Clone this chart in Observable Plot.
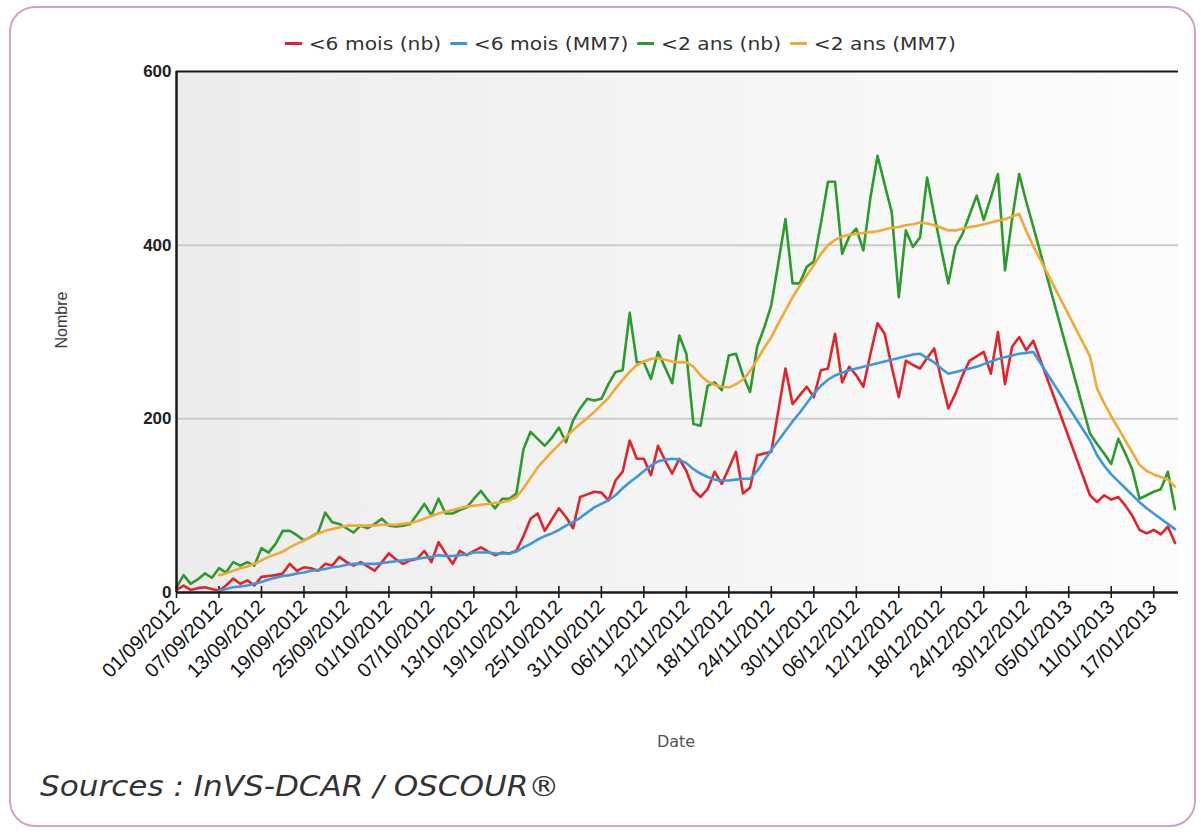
<!DOCTYPE html>
<html><head><meta charset="utf-8">
<script src="https://cdn.jsdelivr.net/npm/d3@7"></script>
<script src="https://cdn.jsdelivr.net/npm/@observablehq/plot@0.6"></script>
<style>
html,body{margin:0;padding:0;background:#fff;}
#wrap{position:relative;width:1201px;height:832px;overflow:hidden;font-family:"Liberation Sans",Arial,sans-serif;}
#chart{position:absolute;left:0;top:0;}
#frame{position:absolute;left:9px;top:6px;width:1187px;height:821px;border:2px solid #d3a0c8;border-radius:26px;box-sizing:border-box;pointer-events:none;}
#legend{position:absolute;top:33px;left:285px;display:flex;align-items:center;font-family:"DejaVu Sans",sans-serif;font-size:18px;color:#333;white-space:nowrap;transform:scaleX(1.125);transform-origin:0 50%;}
.item{display:flex;align-items:center;margin-right:8px;}
.sw{width:15px;height:3px;margin-right:6px;}
#ylab{position:absolute;left:62px;top:320px;transform:translate(-50%,-50%) rotate(-90deg);font-size:16px;color:#3a3a3a;}
#xlab{position:absolute;left:676px;top:741px;transform:translate(-50%,-50%);font-family:"DejaVu Sans",sans-serif;font-size:16px;color:#555;}
#src{position:absolute;left:40px;top:770px;font-family:"DejaVu Sans",sans-serif;font-style:italic;font-size:28px;color:#333;transform:scaleX(1.11);transform-origin:0 50%;white-space:nowrap;}
</style></head><body>
<div id="wrap">
  <div id="chart"></div>
  <div id="frame"></div>
  <div id="legend"></div>
  <div id="ylab">Nombre</div>
  <div id="xlab">Date</div>
  <div id="src">Sources : InVS-DCAR / OSCOUR®</div>
</div>
<script>
// ---- data ----
const startDate = [2012, 9, 1]; // first day of the daily series (01/09/2012)
const tickLabels = ["01/09/2012","07/09/2012","13/09/2012","19/09/2012","25/09/2012","01/10/2012","07/10/2012","13/10/2012","19/10/2012","25/10/2012","31/10/2012","06/11/2012","12/11/2012","18/11/2012","24/11/2012","30/11/2012","06/12/2012","12/12/2012","18/12/2012","24/12/2012","30/12/2012","05/01/2013","11/01/2013","17/01/2013"];
const yTicks = [0, 200, 400, 600];
const seriesNames = ["<6 mois (nb)", "<6 mois (MM7)", "<2 ans (nb)", "<2 ans (MM7)"];
const seriesColors = ["#e2232a", "#3d97dd", "#2c9a2c", "#f1a935"];
const N = null; // no data (01/01 - 07/01/2013)

const nb6mois = [
  3, 8, 3, 5, 6, 4, 2, 8, 16, 10,
  14, 8, 18, 19, 20, 22, 33, 25, 29, 28,
  25, 33, 31, 41, 35, 31, 35, 30, 25, 35,
  45, 38, 33, 37, 39, 48, 35, 58, 45, 33,
  48, 43, 48, 52, 47, 43, 46, 45, 48, 65,
  85, 91, 71, 84, 97, 87, 74, 110, 113, 116,
  115, 106, 129, 139, 175, 154, 154, 135, 169, 152,
  137, 154, 140, 118, 110, 119, 139, 125, 143, 162,
  114, 121, 158, 160, 162, 210, 258, 217, 227, 237,
  225, 256, 258, 298, 242, 260, 250, 237, 275, 310,
  298, 260, 225, 267, 262, 258, 270, 281, 245, 212,
  229, 250, 267, 272, 277, 252, 300, 240, 283, 294,
  279, 290, N, N, N, N, N, N, N, 112,
  104, 112, 107, 110, 100, 88, 72, 68, 72, 67,
  76, 57
];
const mm7_6mois = [
  N, N, N, N, N, N, 2, 4, 6, 7,
  8, 10, 12, 15, 17, 19, 20, 22, 23, 25,
  26, 27, 29, 30, 32, 33, 33, 33, 33, 34,
  35, 36, 37, 38, 39, 40, 41, 43, 42, 42,
  43, 44, 46, 46, 46, 45, 45, 45, 47, 52,
  56, 61, 65, 68, 72, 77, 81, 86, 92, 98,
  102, 106, 112, 120, 127, 133, 140, 146, 151, 153,
  154, 153, 149, 142, 137, 133, 130, 129, 129, 130,
  131, 131, 140, 152, 164, 175, 186, 197, 207, 218,
  229, 238, 245, 250, 253, 256, 258, 260, 262, 264,
  266, 268, 270, 272, 274, 275, 270, 265, 258, 252,
  254, 256, 258, 260, 263, 266, 269, 271, 273, 275,
  276, 277, N, N, N, N, N, N, N, 175,
  158, 146, 136, 128, 120, 112, 104, 97, 91, 85,
  79, 73
];
const nb2ans = [
  6, 20, 10, 15, 22, 17, 28, 23, 35, 31,
  35, 31, 51, 46, 56, 71, 71, 66, 60, 64,
  69, 92, 81, 79, 74, 69, 77, 74, 79, 85,
  77, 76, 77, 79, 90, 102, 89, 108, 91, 91,
  95, 98, 108, 117, 106, 97, 108, 108, 114, 165,
  185, 177, 169, 178, 190, 173, 198, 212, 223, 221,
  223, 240, 254, 256, 322, 265, 265, 246, 277, 259,
  241, 296, 275, 194, 192, 238, 242, 233, 273, 275,
  250, 231, 283, 305, 331, 380, 430, 356, 356, 375,
  381, 425, 473, 473, 390, 410, 419, 394, 455, 503,
  470, 438, 340, 417, 398, 409, 478, 435, 395, 356,
  398, 413, 435, 457, 429, 455, 482, 371, 430, 482,
  450, 421, N, N, N, N, N, N, N, 183,
  171, 160, 148, 177, 160, 141, 108, 112, 116, 119,
  139, 96
];
const mm7_2ans = [
  N, N, N, N, N, N, 20, 22, 25, 28,
  30, 33, 37, 41, 44, 47, 52, 56, 60, 64,
  68, 71, 73, 75, 77, 77, 77, 77, 77, 78,
  78, 78, 79, 80, 82, 85, 88, 91, 93, 95,
  97, 99, 100, 101, 102, 103, 104, 106, 110, 120,
  132, 144, 153, 162, 170, 179, 187, 194, 201, 208,
  216, 224, 235, 245, 254, 262, 266, 269, 270, 268,
  266, 265, 265, 260, 250, 243, 239, 237, 236, 240,
  245, 255, 268, 282, 294, 310, 325, 340, 353, 365,
  377, 390, 400, 406, 410, 412, 413, 414, 415, 416,
  418, 420, 421, 423, 424, 426, 425, 423, 420, 417,
  417, 419, 421, 422, 424, 426, 428, 430, 433, 436,
  416, 399, N, N, N, N, N, N, N, 272,
  235, 218, 203, 189, 175, 161, 147, 140, 136, 133,
  130, 122
];

// ---- build table ----
const day0 = Date.UTC(startDate[0], startDate[1] - 1, startDate[2]);
const seriesValues = [nb6mois, mm7_6mois, nb2ans, mm7_2ans];
const rows = [];
seriesValues.forEach((arr, s) => arr.forEach((v, i) => {
  if (v != null) rows.push({date: new Date(day0 + i * 864e5), value: v, series: seriesNames[s]});
}));
const tickDates = tickLabels.map(s => { const [d, m, y] = s.split("/").map(Number); return new Date(Date.UTC(y, m - 1, d)); });
const lastDay = new Date(day0 + (nb6mois.length - 0.5) * 864e5);

const chart = Plot.plot({
  width: 1201, height: 832,
  marginLeft: 176, marginRight: 23, marginTop: 71, marginBottom: 240,
  style: {background: "transparent", fontFamily: "'Liberation Sans', Arial, sans-serif", overflow: "visible"},
  x: {type: "utc", domain: [new Date(day0), lastDay]},
  y: {domain: [0, 600]},
  color: {domain: seriesNames, range: seriesColors},
  marks: [
    Plot.frame({fill: "url(#plotbg)", stroke: null}),
    Plot.ruleY([200, 400], {stroke: "#cbcbcb", strokeWidth: 2}),
    Plot.ruleY([600], {stroke: "#1a1a1a", strokeWidth: 2}),
    Plot.axisY(yTicks, {tickSize: 0, tickPadding: 5, fontSize: 17, fontWeight: "bold", fill: "#222", label: null}),
    Plot.axisX(tickDates, {tickFormat: d => tickLabels[tickDates.findIndex(t => +t === +d)], tickSize: 0, tickPadding: 11, tickRotate: -45, fontSize: 20, fill: "#111", label: null}),
    Plot.ruleX(tickDates, {x: d => d, y1: 0, y2: 0, insetTop: -6, insetBottom: -6, stroke: "#1a1a1a", strokeWidth: 1.6}),
    Plot.line(rows, {x: "date", y: "value", stroke: "series", z: "series", strokeWidth: 2.6, strokeLinejoin: "round"}),
    Plot.ruleY([0], {stroke: "#1a1a1a", strokeWidth: 2.5}),
    Plot.ruleX([new Date(day0)], {stroke: "#1a1a1a", strokeWidth: 2.5})
  ]
});

const defs = d3.select(chart).insert("defs", ":first-child");
const grad = defs.append("linearGradient").attr("id", "plotbg").attr("x1", "0").attr("x2", "1").attr("y1", "0").attr("y2", "0");
grad.append("stop").attr("offset", "0%").attr("stop-color", "#ececec");
grad.append("stop").attr("offset", "100%").attr("stop-color", "#fcfcfc");
document.getElementById("chart").appendChild(chart);

// legend
const legend = document.getElementById("legend");
seriesNames.forEach((name, i) => {
  const item = document.createElement("div");
  item.className = "item";
  const sw = document.createElement("div");
  sw.className = "sw";
  sw.style.background = seriesColors[i];
  const t = document.createElement("span");
  t.textContent = name;
  item.appendChild(sw); item.appendChild(t);
  legend.appendChild(item);
});
</script>
</body></html>
